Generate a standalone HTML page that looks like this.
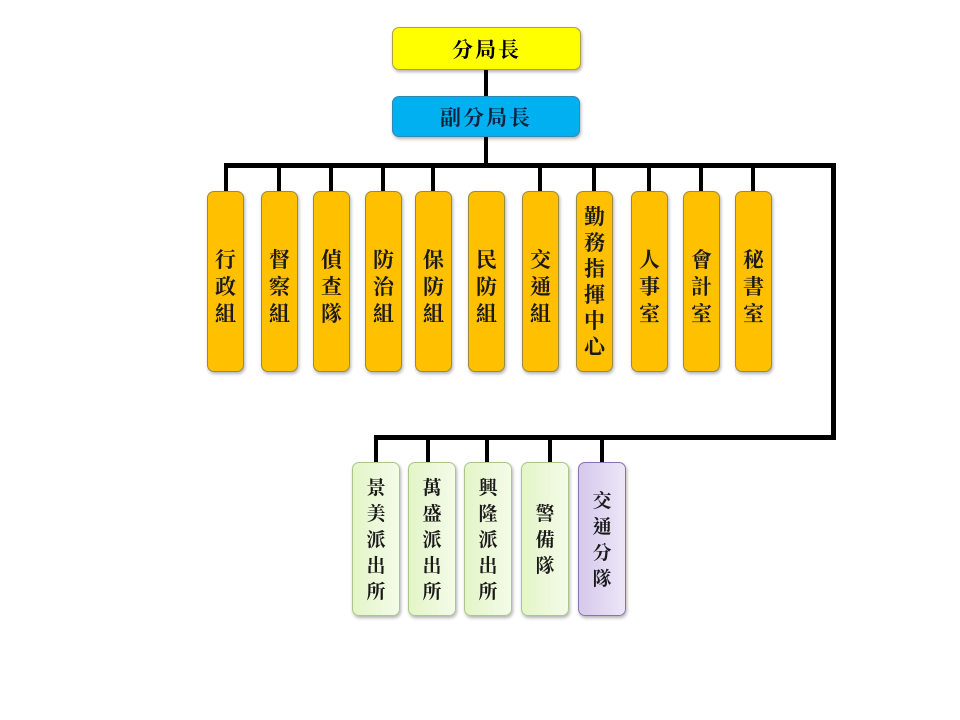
<!DOCTYPE html>
<html><head><meta charset="utf-8"><style>
body{margin:0;width:960px;height:720px;background:#fff;position:relative;overflow:hidden;font-family:"Liberation Serif","Noto Serif CJK TC","Noto Serif CJK SC",serif;}
.l{position:absolute;background:#000;}
.b{position:absolute;box-sizing:border-box;border-radius:7px;display:flex;flex-direction:column;align-items:center;justify-content:center;color:#1a1a1a;font-weight:bold;box-shadow:1px 2px 3px rgba(0,0,0,.3);}
.o{background:#ffc000;border:1px solid #9a8a40;top:191px;height:181px;width:37px;font-size:21px;line-height:27px;padding-top:12px;}
.g{background:linear-gradient(90deg,#e3f5c7,#f4fbe9);border:1px solid #a8c88a;top:462px;height:154px;width:48px;font-size:19px;line-height:26px;padding-top:4px;}
.h{position:absolute;box-sizing:border-box;border-radius:7px;display:flex;align-items:center;justify-content:center;font-weight:bold;font-size:21px;letter-spacing:2px;}
</style></head><body>
<div class="l" style="left:484px;top:70px;width:4px;height:95px"></div>
<div class="l" style="left:224px;top:163px;width:612px;height:5px"></div>
<div class="l" style="left:831px;top:163px;width:5px;height:277px"></div>
<div class="l" style="left:374px;top:435px;width:462px;height:5px"></div>
<div class="l" style="left:224px;top:163px;width:4px;height:28px"></div>
<div class="l" style="left:277px;top:163px;width:4px;height:28px"></div>
<div class="l" style="left:329px;top:163px;width:4px;height:28px"></div>
<div class="l" style="left:381px;top:163px;width:4px;height:28px"></div>
<div class="l" style="left:431px;top:163px;width:4px;height:28px"></div>
<div class="l" style="left:538px;top:163px;width:4px;height:28px"></div>
<div class="l" style="left:592px;top:163px;width:4px;height:28px"></div>
<div class="l" style="left:647px;top:163px;width:4px;height:28px"></div>
<div class="l" style="left:699px;top:163px;width:4px;height:28px"></div>
<div class="l" style="left:751px;top:163px;width:4px;height:28px"></div>
<div class="l" style="left:374px;top:435px;width:4px;height:27px"></div>
<div class="l" style="left:426px;top:435px;width:4px;height:27px"></div>
<div class="l" style="left:485px;top:435px;width:4px;height:27px"></div>
<div class="l" style="left:548px;top:435px;width:4px;height:27px"></div>
<div class="l" style="left:600px;top:435px;width:4px;height:27px"></div>

<div class="h" style="left:392px;top:27px;width:189px;height:43px;background:#ffff00;border:1px solid #b0a040;box-shadow:1px 2px 3px rgba(0,0,0,.3)">分局長</div>
<div class="h" style="left:392px;top:96px;width:188px;height:41px;background:#00b0f0;border:1px solid #2a8ab0;color:#0d2340;box-shadow:1px 2px 3px rgba(0,0,0,.3)">副分局長</div>

<div class="b o" style="left:207px">行<br>政<br>組</div>
<div class="b o" style="left:261px">督<br>察<br>組</div>
<div class="b o" style="left:313px">偵<br>查<br>隊</div>
<div class="b o" style="left:365px">防<br>治<br>組</div>
<div class="b o" style="left:415px">保<br>防<br>組</div>
<div class="b o" style="left:468px">民<br>防<br>組</div>
<div class="b o" style="left:522px">交<br>通<br>組</div>
<div class="b o" style="left:576px;line-height:26px;padding-top:0">勤<br>務<br>指<br>揮<br>中<br>心</div>
<div class="b o" style="left:631px">人<br>事<br>室</div>
<div class="b o" style="left:683px">會<br>計<br>室</div>
<div class="b o" style="left:735px">秘<br>書<br>室</div>

<div class="b g" style="left:352px">景<br>美<br>派<br>出<br>所</div>
<div class="b g" style="left:408px">萬<br>盛<br>派<br>出<br>所</div>
<div class="b g" style="left:464px">興<br>隆<br>派<br>出<br>所</div>
<div class="b g" style="left:521px">警<br>備<br>隊</div>
<div class="b g" style="left:578px;background:linear-gradient(90deg,#d5c8ec,#ede6f7);border-color:#8a72b0">交<br>通<br>分<br>隊</div>
</body></html>
